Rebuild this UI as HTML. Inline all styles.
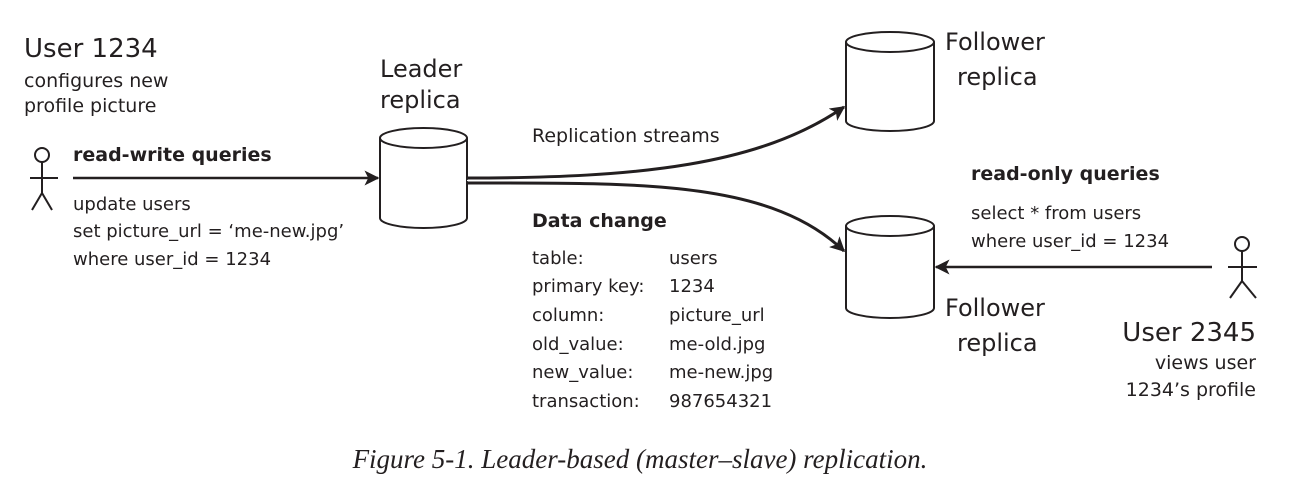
<!DOCTYPE html>
<html><head><style>
html,body{margin:0;padding:0;background:#fff;}
svg{display:block;}
text{font-family:"DejaVu Sans","Liberation Sans",sans-serif;fill:#231f20;}
</style></head><body>
<svg width="1300" height="494" viewBox="0 0 1300 494" xmlns="http://www.w3.org/2000/svg">
<defs>
<marker id="ah" viewBox="0 0 10 10" refX="9" refY="5" markerWidth="15" markerHeight="15" markerUnits="userSpaceOnUse" orient="auto"><path d="M0,0 L10,5 L0,10 L2.5,5 z" fill="#231f20"/></marker>
</defs>
<g stroke="#231f20" stroke-width="2" fill="none">
<circle cx="42" cy="155" r="7"/>
<line x1="42" y1="162" x2="42" y2="193"/>
<line x1="30" y1="178" x2="58" y2="178"/>
<line x1="42" y1="193" x2="32" y2="210"/>
<line x1="42" y1="193" x2="52" y2="210"/>
<circle cx="1242" cy="244" r="7"/>
<line x1="1242" y1="251" x2="1242" y2="281"/>
<line x1="1228" y1="267" x2="1257" y2="267"/>
<line x1="1242" y1="281" x2="1230" y2="298"/>
<line x1="1242" y1="281" x2="1256" y2="298"/>
<path d="M380,138 L380,218 A43.5,10 0 0 0 467,218 L467,138" fill="#fff"/>
<ellipse cx="423.5" cy="138" rx="43.5" ry="10" fill="#fff"/>
<path d="M846,42 L846,121 A44,10 0 0 0 934,121 L934,42" fill="#fff"/>
<ellipse cx="890" cy="42" rx="44" ry="10" fill="#fff"/>
<path d="M846,226 L846,308 A44,10 0 0 0 934,308 L934,226" fill="#fff"/>
<ellipse cx="890" cy="226" rx="44" ry="10" fill="#fff"/>
<line x1="73" y1="178" x2="378" y2="178" stroke-width="2.5" marker-end="url(#ah)"/>
<path d="M467,178 C640,178 760,165 844,107" stroke-width="3" marker-end="url(#ah)"/>
<path d="M467,183 C640,183 770,180 844,251" stroke-width="3" marker-end="url(#ah)"/>
<line x1="1212" y1="267" x2="936" y2="267" stroke-width="2.5" marker-end="url(#ah)"/>
</g>
<line x1="467" y1="180.5" x2="520" y2="180.5" stroke="#fff" stroke-width="1.2"/>
<text x="24" y="57" font-size="26">User 1234</text>
<text x="24" y="87" font-size="19">configures new</text>
<text x="24" y="112" font-size="19">profile picture</text>
<text x="380" y="77" font-size="24">Leader</text>
<text x="380" y="108" font-size="24">replica</text>
<text x="73" y="161" font-size="19" font-weight="bold">read-write queries</text>
<text x="73" y="210" font-size="18">update users</text>
<text x="73" y="237" font-size="18">set picture_url = ‘me-new.jpg’</text>
<text x="73" y="265" font-size="18">where user_id = 1234</text>
<text x="532" y="142" font-size="19">Replication streams</text>
<text x="532" y="227" font-size="19" font-weight="bold">Data change</text>
<g font-size="18">
<text x="532" y="264">table:</text><text x="669" y="264">users</text>
<text x="532" y="292">primary key:</text><text x="669" y="292">1234</text>
<text x="532" y="321">column:</text><text x="669" y="321">picture_url</text>
<text x="532" y="350">old_value:</text><text x="669" y="350">me-old.jpg</text>
<text x="532" y="378">new_value:</text><text x="669" y="378">me-new.jpg</text>
<text x="532" y="407">transaction:</text><text x="669" y="407">987654321</text>
</g>
<text x="945" y="50" font-size="24">Follower</text>
<text x="957" y="85" font-size="24">replica</text>
<text x="945" y="316" font-size="24">Follower</text>
<text x="957" y="351" font-size="24">replica</text>
<text x="971" y="180" font-size="19" font-weight="bold">read-only queries</text>
<text x="971" y="219" font-size="18">select * from users</text>
<text x="971" y="247" font-size="18">where user_id = 1234</text>
<text x="1256" y="341" font-size="26" text-anchor="end">User 2345</text>
<text x="1256" y="369" font-size="19" text-anchor="end">views user</text>
<text x="1256" y="396" font-size="19" text-anchor="end">1234’s profile</text>
<text x="640" y="468" font-size="27" font-style="italic" text-anchor="middle" style="font-family:'Liberation Serif',serif">Figure 5-1. Leader-based (master–slave) replication.</text>
</svg>
</body></html>
